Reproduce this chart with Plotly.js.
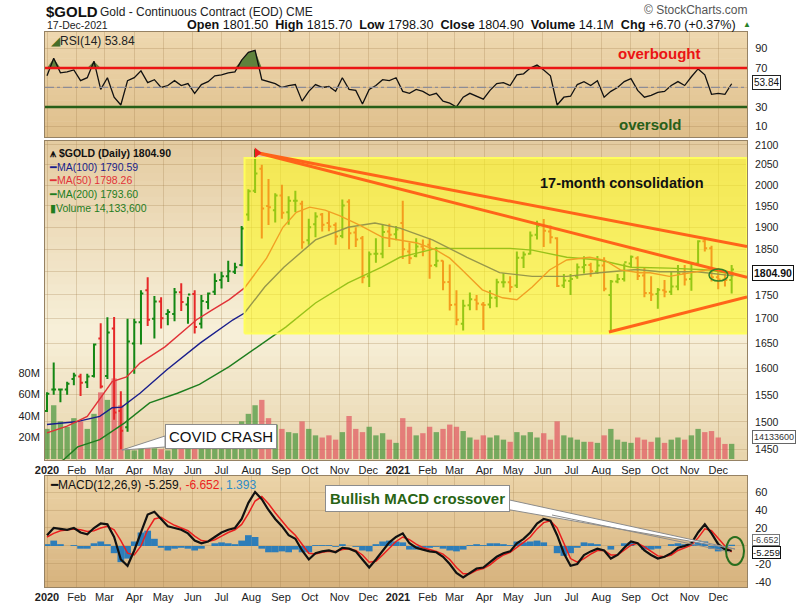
<!DOCTYPE html>
<html><head><meta charset="utf-8">
<script src="https://cdn.plot.ly/plotly-3.0.1.min.js"></script>
<style>html,body{margin:0;padding:0;background:#fff}#chart{width:800px;height:605px}</style>
</head><body><div id="chart"></div>
<script>
// ---------- DATA (weekly) ----------
const weekDates = ['2020-01-01','2020-01-08','2020-01-15','2020-01-22','2020-01-29','2020-02-05','2020-02-12','2020-02-19','2020-02-26','2020-03-04',
'2020-03-11','2020-03-18','2020-03-25','2020-04-01','2020-04-08','2020-04-15','2020-04-22','2020-04-29','2020-05-06','2020-05-13',
'2020-05-20','2020-05-27','2020-06-03','2020-06-10','2020-06-17','2020-06-24','2020-07-01','2020-07-08','2020-07-15','2020-07-22',
'2020-07-29','2020-08-05','2020-08-12','2020-08-19','2020-08-26','2020-09-02','2020-09-09','2020-09-16','2020-09-23','2020-09-30',
'2020-10-07','2020-10-14','2020-10-21','2020-10-28','2020-11-04','2020-11-11','2020-11-18','2020-11-25','2020-12-02','2020-12-09',
'2020-12-16','2020-12-23','2020-12-30','2021-01-06','2021-01-13','2021-01-20','2021-01-27','2021-02-03','2021-02-10','2021-02-17',
'2021-02-24','2021-03-03','2021-03-10','2021-03-17','2021-03-24','2021-03-31','2021-04-07','2021-04-14','2021-04-21','2021-04-28',
'2021-05-05','2021-05-12','2021-05-19','2021-05-26','2021-06-02','2021-06-09','2021-06-16','2021-06-23','2021-06-30','2021-07-07',
'2021-07-14','2021-07-21','2021-07-28','2021-08-04','2021-08-11','2021-08-18','2021-08-25','2021-09-01','2021-09-08','2021-09-15',
'2021-09-22','2021-09-29','2021-10-06','2021-10-13','2021-10-20','2021-10-27','2021-11-03','2021-11-10','2021-11-17','2021-11-24',
'2021-12-01','2021-12-08','2021-12-15'];
const priceOpen = [1520,1560,1560,1560,1580,1585,1574,1586,1660,1586,
1680,1520,1490,1650,1693,1760,1700,1736,1710,1710,
1756,1730,1752,1690,1735,1757,1782,1790,1800,1815,
1930,1986,2040,1950,1940,1975,1935,1962,1955,1870,
1907,1930,1910,1905,1880,1960,1888,1875,1790,1840,
1840,1890,1884,1910,1845,1835,1856,1860,1815,1824,
1778,1730,1690,1728,1740,1730,1730,1744,1777,1777,
1770,1831,1840,1883,1905,1890,1875,1770,1780,1790,
1810,1815,1800,1814,1750,1779,1784,1818,1830,1792,
1754,1752,1760,1757,1768,1796,1784,1818,1868,1852,
1788,1783,1782];
const priceHigh = [1555,1612,1562,1575,1592,1590,1590,1650,1691,1703,
1704,1557,1700,1700,1760,1788,1748,1745,1720,1765,
1775,1746,1760,1750,1755,1796,1800,1824,1820,1903,
1990,2089,2050,2015,1980,2001,1973,1986,1962,1920,
1935,1933,1936,1911,1965,1966,1900,1880,1845,1875,
1906,1908,1903,1962,1865,1875,1872,1875,1855,1825,
1816,1760,1740,1755,1750,1735,1760,1785,1797,1790,
1845,1845,1890,1915,1919,1904,1877,1795,1795,1818,
1834,1820,1835,1832,1782,1795,1818,1836,1834,1810,
1790,1765,1782,1801,1815,1815,1820,1870,1877,1858,
1808,1795,1815];
const priceLow = [1518,1550,1536,1550,1568,1548,1563,1583,1562,1580,
1504,1451,1482,1590,1648,1685,1660,1680,1687,1695,
1716,1690,1670,1680,1720,1750,1764,1778,1795,1812,
1915,1981,1874,1905,1911,1920,1906,1935,1851,1860,
1877,1890,1891,1860,1875,1850,1855,1775,1767,1820,
1830,1855,1870,1828,1817,1832,1834,1785,1810,1760,
1717,1687,1676,1718,1718,1677,1722,1724,1766,1756,
1765,1808,1838,1872,1855,1863,1767,1765,1750,1785,
1796,1789,1795,1758,1677,1775,1779,1810,1782,1745,
1737,1721,1745,1750,1760,1770,1759,1816,1845,1779,
1762,1768,1753];
const priceClose = [1552,1560,1560,1571,1587,1573,1585,1648,1566,1672,
1517,1484,1654,1693,1753,1698,1736,1701,1714,1756,
1735,1751,1683,1737,1753,1780,1790,1801,1810,1897,
1985,2028,1944,1947,1975,1934,1962,1962,1866,1900,
1925,1906,1902,1879,1951,1886,1872,1788,1839,1840,
1889,1883,1895,1850,1830,1856,1850,1813,1824,1777,
1729,1698,1727,1741,1732,1729,1744,1777,1777,1767,
1831,1838,1881,1903,1892,1877,1769,1781,1784,1810,
1815,1801,1814,1763,1779,1784,1821,1833,1791,1754,
1751,1761,1757,1768,1796,1783,1818,1868,1852,1788,
1783,1782,1805];
const volumeM = [28,50,35,30,38,35,28,42,62,55,
75,50,10,8,12,14,10,9,8,10,
12,15,14,13,12,18,22,22,25,35,
42,50,55,38,32,28,25,24,35,28,
22,20,22,18,25,40,28,25,30,22,
24,18,15,38,30,22,24,30,25,28,
32,30,26,20,18,22,20,22,18,16,
25,22,25,20,24,18,35,22,20,18,
16,16,15,22,28,18,16,15,20,18,
16,20,15,18,20,18,22,28,25,26,
20,14,14.1];
const rsiValues = [62,80,65,66,68,57,60,77,48,60,
40,32,57,60,67,55,58,50,52,57,
52,54,44,53,56,62,63,65,66,78,
86,88,58,56,54,50,52,53,36,46,
53,50,51,46,60,48,47,33,48,52,
58,57,60,46,44,48,46,42,44,36,
34,30,40,44,41,38,47,54,55,52,
63,64,70,73,68,62,32,40,41,53,
56,52,57,40,46,50,56,59,47,40,
42,45,46,52,56,52,61,69,63,43,
44,43,53.84];
const macdLine = [12,20,19,18,20,15,13,20,25,24,
10,-15,-22,-5,15,35,38,30,22,20,
18,14,6,3,5,10,15,18,20,30,
48,60,52,40,30,22,12,8,-5,-15,
-8,-6,-5,-7,-2,-3,-6,-15,-24,-15,
-5,4,10,14,3,-2,-4,-6,-7,-12,
-20,-30,-35,-30,-25,-24,-18,-12,-8,-6,
3,8,15,25,30,28,12,-8,-22,-20,
-10,-6,-3,-5,-14,-10,-2,5,3,-5,
-10,-14,-12,-8,-2,0,3,15,24,14,
2,-4,-5.259];
const macdSignal = [10,14,17,18,19,18,16,17,20,22,
18,6,-8,-10,0,18,30,32,27,23,
20,17,11,6,5,7,11,15,18,24,
36,50,55,47,37,28,19,12,2,-8,
-9,-7,-6,-6,-4,-3,-5,-10,-18,-17,
-10,-2,5,10,7,2,-2,-4,-6,-9,
-15,-24,-31,-31,-27,-25,-21,-15,-10,-7,
-2,4,10,19,26,28,20,3,-14,-18,
-14,-9,-5,-5,-10,-10,-5,1,3,-1,
-6,-11,-12,-10,-5,-2,1,9,19,17,
8,0,-6.652];
const macdHist = [2,6,2,0,1,-3,-3,3,5,2,
-8,-18,-14,5,15,17,8,-2,-5,-3,
-2,-3,-5,-3,0,3,4,3,2,6,
12,10,-3,-7,-7,-6,-7,-4,-7,-7,
1,1,1,-1,2,0,-1,-5,-6,2,
5,6,5,4,-4,-4,-2,-2,-1,-3,
-5,-6,-4,1,2,1,3,3,2,1,
5,4,5,6,4,0,-8,-11,-8,-2,
4,3,2,0,-4,0,3,4,0,-4,
-4,-3,0,2,3,2,2,6,5,-3,
-6,-4,1.393];

const ma50Dates = ['2020-01-01','2020-01-22','2020-02-12','2020-02-25','2020-03-09','2020-03-24','2020-04-07','2020-05-03','2020-06-05','2020-06-21','2020-07-09','2020-07-25','2020-08-07','2020-08-17','2020-09-03','2020-09-17','2020-10-01','2020-10-17','2020-11-01','2020-11-22','2020-12-16','2021-01-03','2021-01-21','2021-02-10','2021-02-24','2021-03-09','2021-03-30','2021-04-20','2021-05-05','2021-05-21','2021-06-08','2021-06-26','2021-07-20','2021-08-05','2021-08-21','2021-09-10','2021-09-21','2021-10-11','2021-11-01','2021-11-25','2021-12-17'];
const ma50 = [1480,1492,1510,1541,1575,1584,1611,1643,1698,1718,1740,1765,1800,1830,1900,1935,1947,1940,1927,1905,1877,1870,1864,1848,1830,1804,1761,1744,1740,1767,1804,1826,1832,1825,1804,1798,1798,1790,1798,1806,1798];
const ma100Dates = ['2020-01-01','2020-01-31','2020-02-25','2020-03-09','2020-03-19','2020-04-07','2020-05-05','2020-06-09','2020-07-13','2020-07-25','2020-08-15','2020-09-04','2020-10-07','2020-11-10','2020-12-08','2021-01-03','2021-02-06','2021-03-14','2021-04-17','2021-05-21','2021-06-26','2021-07-30','2021-09-07','2021-10-01','2021-11-09','2021-12-17'];
const ma100 = [1495,1500,1510,1526,1527,1553,1598,1651,1698,1712,1767,1810,1871,1900,1910,1898,1871,1832,1798,1790,1790,1798,1805,1800,1800,1791];
const ma200Dates = ['2020-01-01','2020-01-18','2020-02-02','2020-02-25','2020-03-22','2020-04-17','2020-05-16','2020-06-08','2020-07-09','2020-08-13','2020-09-06','2020-10-07','2020-11-10','2020-12-15','2021-01-03','2021-02-10','2021-04-28','2021-05-21','2021-06-26','2021-07-30','2021-09-01','2021-10-11','2021-11-22','2021-12-17'];
const ma200 = [1420,1432,1455,1468,1498,1535,1553,1570,1604,1651,1683,1733,1776,1810,1832,1852,1852,1848,1832,1826,1810,1808,1804,1794];

// consolidation zone and trend lines
const zoneDates = ['2020-07-25','2021-12-31','2021-12-31','2020-07-25','2020-07-25'];
const zonePrices = [1670,1670,2067,2067,1670];
const trendUpperDates = ['2020-08-07','2021-12-31'];
const trendUpperPrices = [2080,1856];
const trendMidDates = ['2020-08-07','2021-12-31'];
const trendMidPrices = [2080,1788];
const trendLowerDates = ['2021-08-09','2021-12-31'];
const trendLowerPrices = [1673,1746];

// axis ticks
const monthTicks = ['2020-01-01','2020-02-01','2020-03-01','2020-04-01','2020-05-01','2020-06-01','2020-07-01','2020-08-01','2020-09-01','2020-10-01','2020-11-01','2020-12-01',
'2021-01-01','2021-02-01','2021-03-01','2021-04-01','2021-05-01','2021-06-01','2021-07-01','2021-08-01','2021-09-01','2021-10-01','2021-11-01','2021-12-01'];
const monthLabels = ['<b>2020</b>','Feb','Mar','Apr','May','Jun','Jul','Aug','Sep','Oct','Nov','Dec',
'<b>2021</b>','Feb','Mar','Apr','May','Jun','Jul','Aug','Sep','Oct','Nov','Dec'];
const priceTicks = [1450,1500,1550,1600,1650,1700,1750,1800,1850,1900,1950,2000,2050,2100];
const priceTickLabels = ['1450','1500','1550','1600','1650','1700','1750','','1850','1900','1950','2000','2050','2100'];
const rsiTicks = [10,30,50,70,90];
const rsiTickLabels = ['10','30','','70','90'];
const macdTicks = [-40,-20,0,20,40,60];
const macdTickLabels = ['-40','-20','','20','40','60'];
const volTicks = [20e6,40e6,60e6,80e6];
const volTickLabels = ['20M','40M','60M','80M'];

// ---------- LAYOUT HELPERS ----------
const W = 800, H = 605;
const px = x => x / W, py = y => 1 - y / H;
const XD = [px(45), px(747)];
const xRange = ['2019-12-29 22:00', '2021-12-31'];
const FONT = 'Liberation Sans, Arial, sans-serif';
const gridC = 'rgba(160,125,75,0.28)';
const lineC = 'rgb(150,130,100)';

const shapes = [];
function lerp(a, b, t) { return a + (b - a) * t; }
function colAt(stops, t) {
  for (let i = 0; i < stops.length - 1; i++) {
    const [t0, c0] = stops[i], [t1, c1] = stops[i + 1];
    if (t >= t0 && t <= t1) {
      const u = (t - t0) / (t1 - t0);
      return 'rgb(' + c0.map((c, k) => Math.round(lerp(c, c1[k], u))).join(',') + ')';
    }
  }
  const c = stops[stops.length - 1][1];
  return 'rgb(' + c.join(',') + ')';
}
function bands(y0, y1, stops, n) {
  for (let i = 0; i < n; i++) {
    const t = (i + 0.5) / n;
    shapes.push({type: 'rect', xref: 'paper', yref: 'paper', layer: 'below',
      x0: XD[0], x1: XD[1], y0: py(y0 + (y1 - y0) * i / n), y1: py(y0 + (y1 - y0) * (i + 1) / n + 0.6),
      fillcolor: colAt(stops, t), line: {width: 0}});
  }
}
bands(32, 137, [[0, [238, 216, 176]], [1, [222, 190, 138]]], 20);
bands(141, 460, [[0, [228, 203, 160]], [0.3, [238, 222, 190]], [0.6, [247, 240, 217]], [1, [232, 212, 172]]], 40);
bands(476, 587, [[0, [236, 212, 168]], [1, [214, 178, 125]]], 20);

// RSI reference lines
shapes.push({type: 'line', xref: 'paper', yref: 'y', x0: XD[0], x1: XD[1], y0: 50, y1: 50, line: {color: 'rgb(140,140,150)', width: 1.2, dash: 'dashdot'}});
shapes.push({type: 'line', xref: 'paper', yref: 'y', x0: XD[0], x1: XD[1], y0: 70, y1: 70, line: {color: 'rgb(235,20,20)', width: 2.5}});
shapes.push({type: 'line', xref: 'paper', yref: 'y', x0: XD[0], x1: XD[1], y0: 30, y1: 30, line: {color: 'rgb(40,95,25)', width: 2.5}});
// callout wedges
shapes.push({type: 'path', xref: 'paper', yref: 'paper',
  path: `M ${px(165)} ${py(436)} L ${px(122)} ${py(450)} L ${px(165)} ${py(447)} Z`,
  fillcolor: '#ffffff', line: {color: 'rgb(140,140,140)', width: 1}});
shapes.push({type: 'path', xref: 'paper', yref: 'paper',
  path: `M ${px(505)} ${py(499)} L ${px(735)} ${py(549)} L ${px(505)} ${py(509)} Z`,
  fillcolor: '#ffffff', line: {color: 'rgb(140,140,140)', width: 1}});
shapes.push({type: 'line', xref: 'paper', yref: 'paper', x0: px(552), y0: py(515), x1: px(730), y1: py(552),
  line: {color: 'rgb(140,140,140)', width: 1}});
// highlight ellipses
shapes.push({type: 'circle', xref: 'paper', yref: 'paper', x0: px(726), x1: px(744), y0: py(537), y1: py(565),
  line: {color: 'rgb(40,110,30)', width: 2}});
shapes.push({type: 'circle', xref: 'paper', yref: 'paper', x0: px(709), x1: px(728), y0: py(269), y1: py(281),
  line: {color: 'rgb(50,130,40)', width: 1.5}});

// ---------- TRACES ----------
const volColors = priceClose.map((c, i) => c >= priceOpen[i] ? 'rgba(70,150,60,0.7)' : 'rgba(225,85,95,0.7)');
const rsiOver = rsiValues.map(v => Math.max(v, 70));
const rsiBase = rsiValues.map(() => 70);
const histColors = macdHist.map(() => 'rgb(45,125,185)');

const traces = [
  // RSI
  {type: 'scatter', mode: 'lines', x: weekDates, y: rsiBase, xaxis: 'x', yaxis: 'y', line: {width: 0, color: 'rgba(0,0,0,0)'}, hoverinfo: 'skip'},
  {type: 'scatter', mode: 'lines', x: weekDates, y: rsiOver, xaxis: 'x', yaxis: 'y', fill: 'tonexty', fillcolor: 'rgb(95,130,60)', line: {width: 0, color: 'rgba(0,0,0,0)'}, hoverinfo: 'skip'},
  {type: 'scatter', mode: 'lines', x: weekDates, y: rsiValues, xaxis: 'x', yaxis: 'y', line: {color: '#111', width: 1.3}},
  // Volume (base axis of price panel)
  {type: 'bar', x: weekDates, y: volumeM.map(v => v * 1e6), xaxis: 'x2', yaxis: 'y2', marker: {color: volColors, line: {width: 0}}},
  // Moving averages
  {type: 'scatter', mode: 'lines', x: ma200Dates, y: ma200, xaxis: 'x2', yaxis: 'y4', line: {color: 'rgb(30,125,30)', width: 1.4}},
  {type: 'scatter', mode: 'lines', x: ma100Dates, y: ma100, xaxis: 'x2', yaxis: 'y4', line: {color: 'rgb(25,30,140)', width: 1.4}},
  {type: 'scatter', mode: 'lines', x: ma50Dates, y: ma50, xaxis: 'x2', yaxis: 'y4', line: {color: 'rgb(225,50,55)', width: 1.4}},
  // Price bars
  {type: 'ohlc', x: weekDates, open: priceOpen, high: priceHigh, low: priceLow, close: priceClose, xaxis: 'x2', yaxis: 'y4',
    increasing: {line: {color: 'rgb(20,135,20)', width: 2}}, decreasing: {line: {color: 'rgb(230,40,40)', width: 2}}, tickwidth: 0.35},
  // consolidation zone
  {type: 'scatter', mode: 'lines', x: zoneDates, y: zonePrices, xaxis: 'x2', yaxis: 'y4', fill: 'toself',
    fillcolor: 'rgba(255,252,20,0.55)', line: {color: 'rgba(255,255,90,0.95)', width: 2}},
  // trend lines
  {type: 'scatter', mode: 'lines', x: trendUpperDates, y: trendUpperPrices, xaxis: 'x2', yaxis: 'y4', line: {color: 'rgb(255,100,25)', width: 3}},
  {type: 'scatter', mode: 'lines', x: trendMidDates, y: trendMidPrices, xaxis: 'x2', yaxis: 'y4', line: {color: 'rgb(255,100,25)', width: 3}},
  {type: 'scatter', mode: 'lines', x: trendLowerDates, y: trendLowerPrices, xaxis: 'x2', yaxis: 'y4', line: {color: 'rgb(255,100,25)', width: 3}},
  {type: 'scatter', mode: 'markers', x: [trendUpperDates[0]], y: [trendUpperPrices[0]], xaxis: 'x2', yaxis: 'y4', marker: {symbol: 'triangle-right', size: 9, color: 'rgb(240,30,30)'}},
  // MACD
  {type: 'bar', x: weekDates, y: macdHist, xaxis: 'x3', yaxis: 'y3', marker: {color: histColors, line: {width: 0}}, width: 7 * 86400000},
  {type: 'scatter', mode: 'lines', x: weekDates, y: macdSignal, xaxis: 'x3', yaxis: 'y3', line: {color: 'rgb(235,30,30)', width: 1.5}},
  {type: 'scatter', mode: 'lines', x: weekDates, y: macdLine, xaxis: 'x3', yaxis: 'y3', line: {color: '#111', width: 2.2}}
];

// ---------- AXES ----------
const xBase = {type: 'date', range: xRange, domain: XD, tickvals: monthTicks, ticktext: monthLabels,
  showgrid: true, gridcolor: gridC, gridwidth: 1, showline: true, mirror: true, linecolor: lineC, linewidth: 1,
  ticks: '', tickfont: {family: FONT, size: 11, color: '#222'}, fixedrange: true, zeroline: false};
const a = (o) => Object.assign({}, xBase, o);

const layout = {
  width: W, height: H, margin: {l: 0, r: 0, t: 0, b: 0}, autosize: false,
  paper_bgcolor: '#ffffff', plot_bgcolor: 'rgba(0,0,0,0)', showlegend: false, hovermode: false,
  font: {family: FONT, size: 11, color: '#222'}, bargap: 0.2,
  xaxis: a({anchor: 'y', showticklabels: false}),
  xaxis2: a({anchor: 'y2', showticklabels: true, rangeslider: {visible: false}}),
  xaxis3: a({anchor: 'y3', showticklabels: true}),
  yaxis: {domain: [py(137), py(32)], range: [-0.8, 106.9], side: 'right', anchor: 'x', tickvals: rsiTicks, ticktext: rsiTickLabels,
    showgrid: true, gridcolor: gridC, showline: true, mirror: true, linecolor: lineC, zeroline: false, ticks: '',
    ticklabelstandoff: 5, tickfont: {family: FONT, size: 11, color: '#222'}, fixedrange: true},
  yaxis2: {domain: [py(460), py(141)], range: [-0.93e6, 295.8e6], side: 'left', anchor: 'x2', tickvals: volTicks, ticktext: volTickLabels,
    showgrid: false, showline: true, linecolor: lineC, zeroline: false, ticks: '', ticklabelstandoff: 2,
    tickfont: {family: FONT, size: 11, color: '#222'}, fixedrange: true},
  yaxis4: {overlaying: 'y2', type: 'log', range: [Math.log10(1432), Math.log10(2110)], side: 'right', anchor: 'x2',
    tickvals: priceTicks, ticktext: priceTickLabels, showgrid: true, gridcolor: gridC, showline: true, linecolor: lineC,
    zeroline: false, ticks: '', ticklabelstandoff: 5, tickfont: {family: FONT, size: 10.5, color: '#222'}, fixedrange: true},
  yaxis3: {domain: [py(587), py(476)], range: [-45.6, 77.8], side: 'right', anchor: 'x3', tickvals: macdTicks, ticktext: macdTickLabels,
    showgrid: true, gridcolor: gridC, showline: true, mirror: true, linecolor: lineC, zeroline: false, ticks: '',
    ticklabelstandoff: 5, tickfont: {family: FONT, size: 11, color: '#222'}, fixedrange: true},
  shapes: shapes,
  annotations: []
};

function note(x, y, text, opts) {
  layout.annotations.push(Object.assign({xref: 'paper', yref: 'paper', x: px(x), y: py(y), text: text, showarrow: false,
    xanchor: 'left', yanchor: 'middle', font: {family: FONT, size: 11, color: '#222'}}, opts || {}));
}
// header
note(44, 11, '<b>$GOLD</b>', {font: {family: FONT, size: 15, color: '#111'}});
note(98, 12, 'Gold - Continuous Contract (EOD) CME', {font: {family: FONT, size: 12, color: '#222'}});
note(45, 25, '17-Dec-2021', {font: {family: FONT, size: 10.5, color: '#222'}});
note(738, 25, '<b>Open</b> 1801.50  <b>High</b> 1815.70  <b>Low</b> 1798.30  <b>Close</b> 1804.90  <b>Volume</b> 14.1M  <b>Chg</b> +6.70 (+0.37%)',
  {xanchor: 'right', font: {family: FONT, size: 12.6, color: '#111'}});
note(741, 25, '▲', {font: {family: FONT, size: 8, color: 'rgb(40,130,40)'}});
note(750, 10, '© StockCharts.com', {xanchor: 'right', font: {family: FONT, size: 12, color: '#555'}});
// RSI panel
note(49, 41, '<span style="color:rgb(70,110,40)">◢</span>RSI(14) 53.84', {font: {family: FONT, size: 12, color: '#222'}});
note(659, 53, '<b>overbought</b>', {xanchor: 'center', font: {family: FONT, size: 15, color: 'rgb(235,20,20)'}});
note(650, 125, '<b>oversold</b>', {xanchor: 'center', font: {family: FONT, size: 15, color: 'rgb(40,95,25)'}});
note(752, 83, '53.84', {bgcolor: '#ffffff', bordercolor: '#222', borderwidth: 1, borderpad: 1, font: {family: FONT, size: 10, color: '#111'}});
// price panel legend (one block)
note(48, 146, '<b>⩚ $GOLD (Daily) 1804.90</b><br>' +
  '<span style="color:rgb(25,30,140)">━MA(100) 1790.59</span><br>' +
  '<span style="color:rgb(225,50,55)">━MA(50) 1798.26</span><br>' +
  '<span style="color:rgb(30,125,30)">━MA(200) 1793.60</span><br>' +
  '<span style="color:rgb(30,125,30)">▮Volume 14,133,600</span>',
  {yanchor: 'top', align: 'left', borderpad: 0, font: {family: FONT, size: 10.5, color: '#111'}});
note(622, 183, '<b>17-month consolidation</b>', {xanchor: 'center', font: {family: FONT, size: 14.5, color: '#111'}});
note(221, 437, 'COVID CRASH', {xanchor: 'center', bgcolor: '#ffffff', bordercolor: 'rgb(140,140,140)', borderwidth: 1, borderpad: 3,
  font: {family: FONT, size: 15, color: '#111'}});
note(752, 273, '<b>1804.90</b>', {bgcolor: '#ffffff', bordercolor: '#111', borderwidth: 1, borderpad: 1, font: {family: FONT, size: 10.5, color: '#111'}});
note(752, 437, '14133600', {bgcolor: '#ffffff', bordercolor: '#666', borderwidth: 1, borderpad: 1, font: {family: FONT, size: 9, color: '#333'}});
// MACD panel
note(48, 485, '<span style="color:#111">━MACD(12,26,9) -5.259</span><span style="color:rgb(235,30,30)">, -6.652</span><span style="color:rgb(45,140,200)">, 1.393</span>',
  {font: {family: FONT, size: 12, color: '#111'}});
note(417, 498, '<b>Bullish MACD crossover</b>', {xanchor: 'center', bgcolor: '#ffffff', bordercolor: 'rgb(140,140,140)', borderwidth: 1, borderpad: 4,
  font: {family: FONT, size: 15, color: 'rgb(40,100,20)'}});
note(752, 540, '-6.652', {bgcolor: '#ffffff', bordercolor: '#777', borderwidth: 1, borderpad: 0, font: {family: FONT, size: 9, color: '#444'}});
note(752, 552, '-5.259', {bgcolor: '#ffffff', bordercolor: '#111', borderwidth: 1, borderpad: 0, font: {family: FONT, size: 9.5, color: '#111'}});

Plotly.newPlot('chart', traces, layout, {staticPlot: true, displayModeBar: false});
</script>
</body></html>
